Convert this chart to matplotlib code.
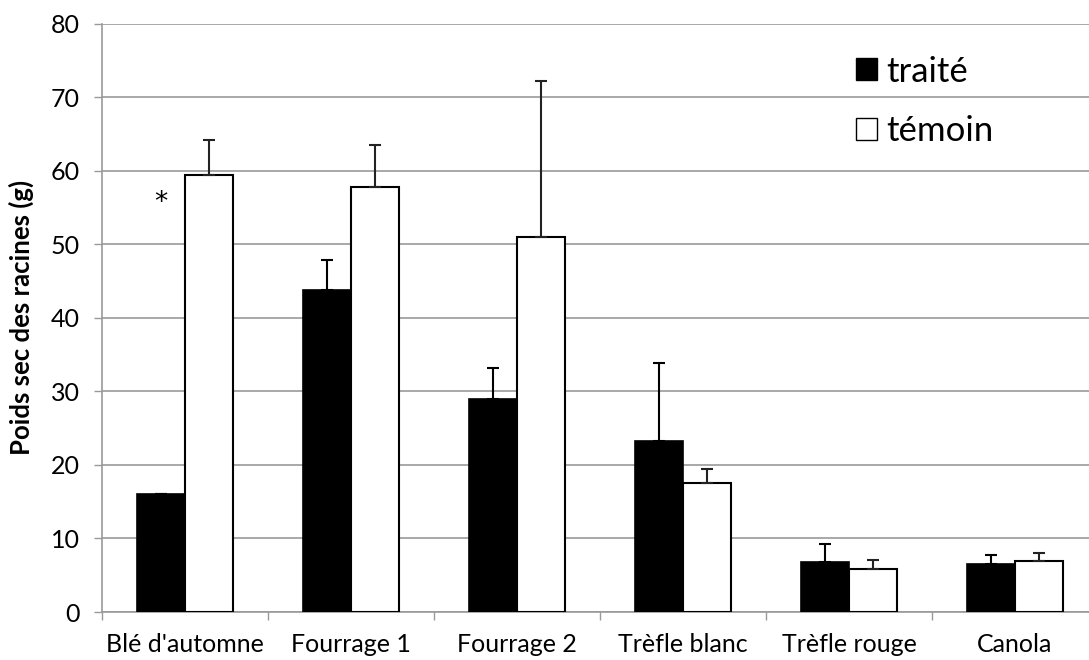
import matplotlib.pyplot as plt
import numpy as np
from matplotlib.patches import Patch

# Values
cultures = ["Blé d'automne", "Fourrage 1", "Fourrage 2", "Trèfle blanc", "Trèfle rouge", "Canola"]
traite = [16.1, 43.8, 28.9, 23.3, 6.8, 6.5]
traite_err = [0.0, 4.1, 4.3, 10.5, 2.5, 1.3]
temoin = [59.4, 57.8, 51.0, 17.6, 5.8, 6.9]
temoin_err = [4.8, 5.7, 21.2, 1.9, 1.3, 1.1]

plt.rcParams['font.family'] = ['Lato', 'DejaVu Sans']

fig = plt.figure(figsize=(10.89, 6.6), dpi=100)
ax = fig.add_axes([102 / 1089, 1 - 612 / 660, 996 / 1089, (612 - 23.6) / 660])

x = np.arange(len(cultures))
w = 0.287
ax.bar(x - w / 2, traite, w, color='black', edgecolor='black', linewidth=1.2, zorder=3)
ax.bar(x + w / 2, temoin, w, color='white', edgecolor='black', linewidth=1.5, zorder=3)

# error bars only upward, like the Excel original
ax.errorbar(x - w / 2, traite, yerr=[np.zeros(len(x)), traite_err], fmt='none',
            ecolor='black', elinewidth=1.5, capsize=4.5, capthick=1.5, zorder=4)
ax.errorbar(x + w / 2, temoin, yerr=[np.zeros(len(x)), temoin_err], fmt='none',
            ecolor='#222222', elinewidth=1.5, capsize=4.5, capthick=1.5, zorder=4)

ax.text(-0.145, 55.6, '*', fontsize=19, ha='center', va='center', family='DejaVu Sans')

ax.set_xlim(-0.5, len(cultures) - 0.5)
ax.set_ylim(0, 80)
ax.set_yticks(range(0, 81, 10))
ax.set_xticks(x)
ax.set_xticklabels(cultures, fontsize=18)
ax.set_xticks(np.arange(-0.5, len(cultures), 1), minor=True)
ax.tick_params(axis='x', which='major', length=0, pad=15)
ax.tick_params(axis='x', which='minor', length=6, color='#999999', width=1)
ax.tick_params(axis='y', length=6, color='#999999', width=1, labelsize=18, pad=10)

ax.grid(axis='y', color='#999999', linewidth=1.2, zorder=0)
ax.set_axisbelow(True)
for s in ['top', 'right']:
    ax.spines[s].set_visible(False)
for s in ['left', 'bottom']:
    ax.spines[s].set_color('#999999')
    ax.spines[s].set_linewidth(1.2)

ax.set_ylabel('Poids sec des racines (g)', fontsize=18.5, fontweight='bold')
ax.yaxis.set_label_coords(-0.068, 0.5)

handles = [Patch(facecolor='black', edgecolor='black', label='traité'),
           Patch(facecolor='white', edgecolor='black', label='témoin')]
ax.legend(handles=handles, loc='upper left', bbox_to_anchor=(0.74, 0.975), frameon=False,
          fontsize=25, handlelength=0.6, handleheight=0.6, handletextpad=0.25,
          labelspacing=0.8, borderpad=0)

fig.savefig('out.png', dpi=100)
